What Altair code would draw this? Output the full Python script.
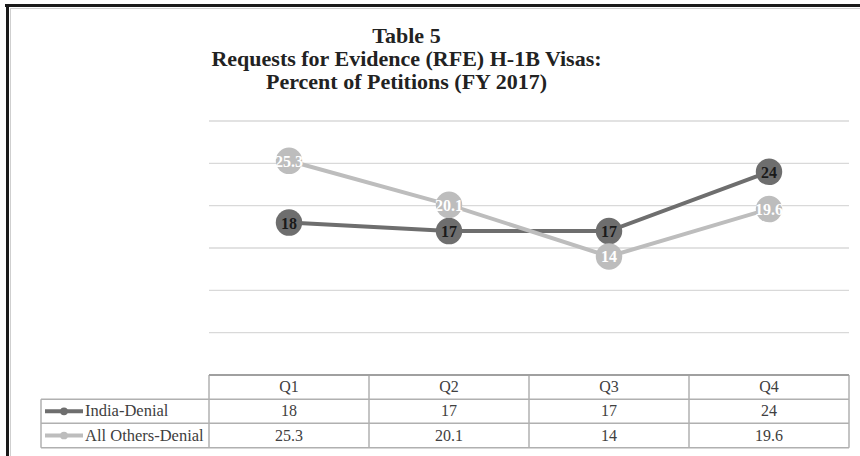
import altair as alt
import pandas as pd

# ---- data ----
quarters = ["Q1", "Q2", "Q3", "Q4"]
series_names = ["India-Denial", "All Others-Denial"]
india = [18, 17, 17, 24]
others = [25.3, 20.1, 14, 19.6]
y_ticks = [5, 10, 15, 20, 25, 30]
col_bounds = [0, 1, 2, 3, 4]
title_lines = ["Table 5",
               "Requests for Evidence (RFE) H-1B Visas:",
               "Percent of Petitions (FY 2017)"]

# ---- styling ----
FONT = "Liberation Serif"
DARK = "#6e6e6e"
LIGHT = "#bdbdbd"
GRID = "#d9d9d9"
TABLE_LINE = "#b0b0b0"
TEXT = "#404040"
W, H = 640, 254


def series_df(name, vals):
    return pd.DataFrame({
        "quarter": quarters,
        "pos": [i + 0.5 for i in range(len(quarters))],
        "series": name,
        "value": vals,
        "label": [f"{v:g}" for v in vals],
    })


df_india = series_df(series_names[0], india)
df_others = series_df(series_names[1], others)

xs = alt.Scale(domain=[0, 4], nice=False, zero=False)
ys = alt.Scale(domain=[0, 30], nice=False, zero=True)

X = alt.X("pos:Q", scale=xs, axis=None)
Y = alt.Y("value:Q", scale=ys, axis=None)

grid = alt.Chart(pd.DataFrame({"value": y_ticks})).mark_rule(
    color=GRID, strokeWidth=1.3
).encode(y=Y, x=alt.value(0), x2=alt.value(W))


def series_layers(df, color, label_color):
    base = alt.Chart(df)
    line = base.mark_line(color=color, strokeWidth=4).encode(x=X, y=Y)
    pts = base.mark_circle(color=color, opacity=1, size=700).encode(x=X, y=Y)
    lbl = base.mark_text(font=FONT, fontSize=16, fontWeight="bold",
                         color=label_color, baseline="middle", dy=1).encode(
        x=X, y=Y, text="label:N")
    return line, pts, lbl


i_line, i_pts, i_lbl = series_layers(df_india, DARK, "#1a1a1a")
o_line, o_pts, o_lbl = series_layers(df_others, LIGHT, "#ffffff")

# ---- data table ----
ROW_TOP = H            # table top
ROW1 = H + 24.3
ROW2 = H + 48.3
ROW_BOT = H + 72.7
LEFT = -168
TFS = 16

header = alt.Chart(df_india).mark_text(
    font=FONT, fontSize=TFS, color=TEXT, baseline="middle"
).encode(x=X, text="quarter:N", y=alt.value((ROW_TOP + ROW1) / 2))

row_i = alt.Chart(df_india).mark_text(
    font=FONT, fontSize=TFS, color=TEXT, baseline="middle"
).encode(x=X, text="label:N", y=alt.value((ROW1 + ROW2) / 2))

row_o = alt.Chart(df_others).mark_text(
    font=FONT, fontSize=TFS, color=TEXT, baseline="middle"
).encode(x=X, text="label:N", y=alt.value((ROW2 + ROW_BOT) / 2))

vlines = alt.Chart(pd.DataFrame({"pos": col_bounds})).mark_rule(
    color=TABLE_LINE, strokeWidth=1.5
).encode(x=X, y=alt.value(ROW_TOP), y2=alt.value(ROW_BOT))

left_line = alt.Chart(pd.DataFrame({"s": [0]})).mark_rule(
    color=TABLE_LINE, strokeWidth=1.5
).encode(x=alt.value(LEFT), y=alt.value(ROW1), y2=alt.value(ROW_BOT))

top_line = alt.Chart(pd.DataFrame({"s": [0]})).mark_rule(
    color="#a0a0a0", strokeWidth=2
).encode(x=alt.value(0), x2=alt.value(W), y=alt.value(ROW_TOP))

hlines = []
for yy in (ROW1, ROW2, ROW_BOT):
    hlines.append(alt.Chart(pd.DataFrame({"s": [0]})).mark_rule(
        color=TABLE_LINE, strokeWidth=1.5
    ).encode(x=alt.value(LEFT), x2=alt.value(W), y=alt.value(yy)))

legend_layers = []
for name, color, ry in ((series_names[0], DARK, (ROW1 + ROW2) / 2),
                        (series_names[1], LIGHT, (ROW2 + ROW_BOT) / 2)):
    d = pd.DataFrame({"series": [name]})
    legend_layers.append(alt.Chart(d).mark_rule(color=color, strokeWidth=4).encode(
        x=alt.value(LEFT + 4), x2=alt.value(LEFT + 42), y=alt.value(ry)))
    legend_layers.append(alt.Chart(d).mark_circle(color=color, opacity=1, size=60).encode(
        x=alt.value(LEFT + 23), y=alt.value(ry)))
    legend_layers.append(alt.Chart(d).mark_text(
        font=FONT, fontSize=16.5, color=TEXT, align="left", baseline="middle"
    ).encode(x=alt.value(LEFT + 44), y=alt.value(ry), text="series:N"))

# ---- title ----
title = alt.Chart(pd.DataFrame({"s": [0]})).mark_text(
    font=FONT, fontSize=22, fontWeight="bold", color="#222222",
    align="center", baseline="alphabetic", lineHeight=23
).encode(x=alt.value(197.5), y=alt.value(-78.5), text=alt.value(title_lines))

# ---- frame ----
frame_top = alt.Chart(pd.DataFrame({"s": [0]})).mark_rule(
    color="#1a1a1a", strokeWidth=3
).encode(x=alt.value(-204), x2=alt.value(700), y=alt.value(-115.5))
frame_left = alt.Chart(pd.DataFrame({"s": [0]})).mark_rule(
    color="#1a1a1a", strokeWidth=3
).encode(x=alt.value(-201.5), y=alt.value(-117), y2=alt.value(400))
inner_top = alt.Chart(pd.DataFrame({"s": [0]})).mark_rule(
    color="#cfcfcf", strokeWidth=1
).encode(x=alt.value(-199), x2=alt.value(700), y=alt.value(-112.5))
inner_left = alt.Chart(pd.DataFrame({"s": [0]})).mark_rule(
    color="#cfcfcf", strokeWidth=1
).encode(x=alt.value(-198.5), y=alt.value(-113), y2=alt.value(400))

chart = alt.layer(
    frame_top, frame_left, inner_top, inner_left,
    grid,
    vlines, left_line, *hlines, top_line,
    header, row_i, row_o, *legend_layers,
    i_line, i_pts, o_line, o_pts, i_lbl, o_lbl,
    title,
).properties(
    width=W, height=H,
    padding={"left": 209, "top": 121, "right": 11, "bottom": 81},
    autosize=alt.AutoSizeParams(type="none"),
    background="white",
).configure_view(stroke=None)

chart.save("out.html", embed_options={"renderer": "svg", "actions": False})
